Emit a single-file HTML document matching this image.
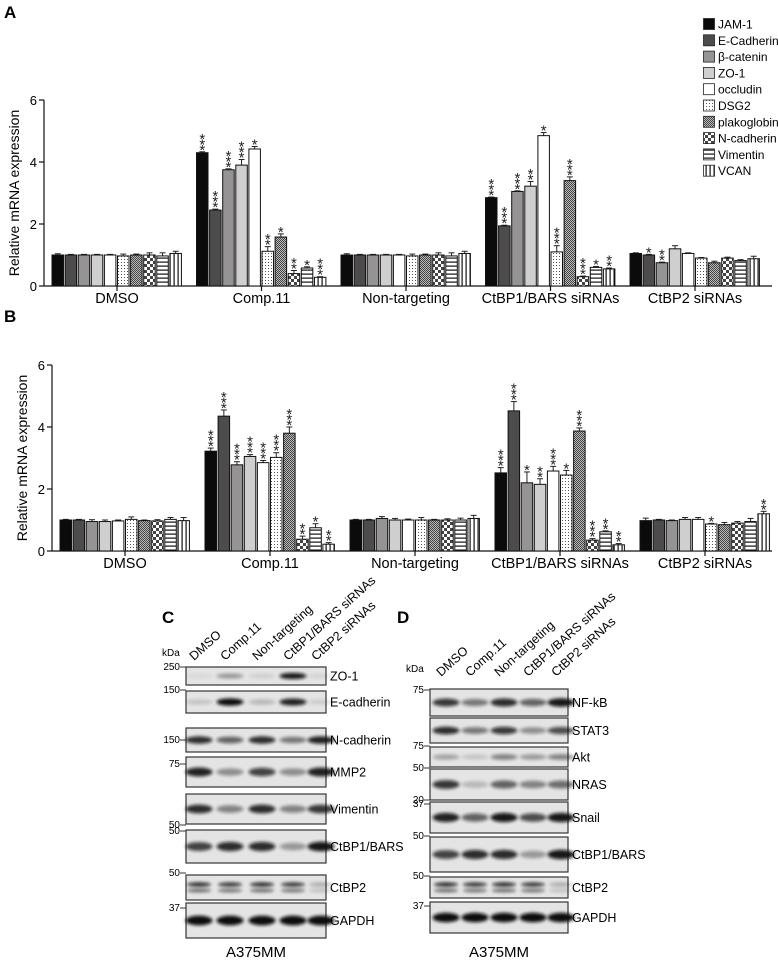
<!DOCTYPE html>
<html><head><meta charset="utf-8"><style>
html,body{margin:0;padding:0;background:#fff;}
svg{display:block;font-family:"Liberation Sans",Arial,sans-serif;}
</style></head><body>
<svg id="fig" width="778" height="960" viewBox="0 0 778 960" xmlns="http://www.w3.org/2000/svg">
<defs>
<pattern id="p5" width="3" height="3" patternUnits="userSpaceOnUse"><rect width="3" height="3" fill="#fff"/><rect x="1" y="1" width="1" height="1" fill="#555"/></pattern>
<pattern id="p6" width="2" height="2" patternUnits="userSpaceOnUse"><rect width="2" height="2" fill="#bbb"/><rect width="1" height="1" fill="#444"/><rect x="1" y="1" width="1" height="1" fill="#444"/></pattern>
<pattern id="p7" width="6" height="6" patternUnits="userSpaceOnUse"><rect width="6" height="6" fill="#fff"/><rect width="3" height="3" fill="#444"/><rect x="3" y="3" width="3" height="3" fill="#444"/></pattern>
<pattern id="p8" width="4" height="4" patternUnits="userSpaceOnUse"><rect width="4" height="4" fill="#fff"/><rect y="1.5" width="4" height="1.2" fill="#111"/></pattern>
<pattern id="p9" width="4" height="4" patternUnits="userSpaceOnUse"><rect width="4" height="4" fill="#fff"/><rect x="1.5" width="1.2" height="4" fill="#111"/></pattern>
<filter id="blur" x="-50%" y="-100%" width="200%" height="300%"><feGaussianBlur stdDeviation="1.6"/></filter>
</defs>
<g id="root"></g>
</svg>
<script>
const NS="http://www.w3.org/2000/svg";
const groups=["DMSO","Comp.11","Non-targeting","CtBP1/BARS siRNAs","CtBP2 siRNAs"];
const genes=["JAM-1","E-Cadherin","β-catenin","ZO-1","occludin","DSG2","plakoglobin","N-cadherin","Vimentin","VCAN"];
const fills=["#0b0b0b","#4d4b4c","#959394","#cfcfcf","#ffffff","url(#p5)","url(#p6)","url(#p7)","url(#p8)","url(#p9)"];
const yTicks=[0,2,4,6];
const valsA_DMSO=[1.0,1.0,1.0,1.0,1.0,0.97,1.0,1.0,0.97,1.05];
const valsA_Comp=[4.3,2.45,3.75,3.9,4.42,1.12,1.58,0.4,0.58,0.28];
const valsA_NT=[1.0,1.0,1.0,1.0,1.0,0.97,1.0,1.0,0.97,1.05];
const valsA_Ct1=[2.85,1.94,3.05,3.22,4.85,1.1,3.4,0.3,0.6,0.55];
const valsA_Ct2=[1.05,1.0,0.75,1.2,1.05,0.9,0.75,0.9,0.82,0.88];
const errA_Comp=[0.03,0.03,0.03,0.18,0.08,0.15,0.1,0.1,0.04,0.02];
const errA_Ct1=[0.02,0.02,0.02,0.15,0.1,0.2,0.12,0.02,0.03,0.03];
const errA_Ct2=[0.02,0.02,0.02,0.1,0.02,0.02,0.05,0.03,0.03,0.08];
const errA_ctl=[0.04,0.02,0.02,0.02,0.02,0.06,0.03,0.07,0.1,0.07];
const starsA_Comp=["***","***","***","***","*","**","*","**","*","***"];
const starsA_Ct1=["***","***","***","**","*","***","***","***","*","**"];
const starsA_Ct2=["","*","**","","","","","","",""];
const valsB_DMSO=[1.0,1.0,0.95,0.95,0.97,1.02,0.98,0.97,1.02,0.98];
const valsB_Comp=[3.22,4.35,2.78,3.05,2.85,3.02,3.8,0.38,0.75,0.22];
const valsB_NT=[1.0,1.0,1.05,1.0,1.0,1.0,1.0,1.0,1.0,1.05];
const valsB_Ct1=[2.52,4.52,2.2,2.15,2.58,2.45,3.87,0.35,0.62,0.2];
const valsB_Ct2=[0.98,1.0,0.98,1.02,1.02,0.87,0.85,0.9,0.95,1.2];
const errB_Comp=[0.1,0.2,0.1,0.06,0.07,0.15,0.2,0.1,0.13,0.05];
const errB_Ct1=[0.17,0.3,0.35,0.18,0.15,0.15,0.1,0.05,0.03,0.04];
const errB_Ct2=[0.08,0.02,0.02,0.06,0.06,0.02,0.07,0.05,0.1,0.08];
const errB_ctl=[0.02,0.02,0.06,0.05,0.03,0.08,0.02,0.04,0.06,0.1];
const starsB_Comp=["***","***","***","***","***","***","***","**","*","**"];
const starsB_Ct1=["***","***","*","**","***","*","***","***","**","**"];
const starsB_Ct2=["","","","","","*","","","","**"];
const root=document.getElementById('root');
function mk(tag,attrs,parent,text){const e=document.createElementNS(NS,tag);for(const k in attrs)e.setAttribute(k,attrs[k]);if(text!==undefined)e.textContent=text;(parent||root).appendChild(e);return e;}

function chart(cfg){
  const g=mk('g',{});
  
  
  const y=v=>cfg.zero-v*cfg.unit;
  const xBar=(gi,bi)=>cfg.start+gi*cfg.gstep+bi*cfg.pitch;
  const ya=mk('line',{x1:cfg.ax,y1:y(6),x2:cfg.ax,y2:cfg.zero,stroke:'#111','stroke-width':1.2},g);
  
  const xa=mk('line',{x1:cfg.ax,y1:cfg.zero,x2:772,y2:cfg.zero,stroke:'#111','stroke-width':1.2},g);
  
  yTicks.forEach(t=>{
    mk('line',{x1:cfg.ax-5,y1:y(t),x2:cfg.ax,y2:y(t),stroke:'#111','stroke-width':1.2},g);
    const tl=mk('text',{x:cfg.ax-7,y:y(t)+5,'text-anchor':'end','font-size':13},g,String(t));
    
  });
  const yt=mk('text',{x:0,y:0,'text-anchor':'middle','font-size':14,transform:`translate(${cfg.ax-25},${y(3)}) rotate(-90)`},g,'Relative mRNA expression');
  
  groups.forEach((gn,gi)=>{
    const cx=xBar(gi,0)+cfg.pitch*5-0.5;
    mk('line',{x1:cx,y1:cfg.zero,x2:cx,y2:cfg.zero+5,stroke:'#111','stroke-width':1.2},g);
    const gl=mk('text',{x:cx,y:cfg.zero+17,'text-anchor':'middle','font-size':14.5},g,gn);
    
    const vals=cfg.vals[gi],errs=cfg.errs[gi],st=cfg.stars[gi];
    vals.forEach((v,bi)=>{
      const x=xBar(gi,bi);
      const top=y(v+errs[bi]);
      mk('line',{x1:x+cfg.bw/2,y1:y(v),x2:x+cfg.bw/2,y2:top,stroke:'#222','stroke-width':1},g);
      mk('line',{x1:x+cfg.bw/2-3,y1:top,x2:x+cfg.bw/2+3,y2:top,stroke:'#222','stroke-width':1},g);
      const r=mk('rect',{x:x,y:y(v),width:cfg.bw,height:cfg.zero-y(v),fill:fills[bi],stroke:'#111','stroke-width':1},g);
      
      
      const s=st?st[bi]:'';
      for(let k=0;k<s.length;k++){
        const sy=top-3-k*5.5;
        const se=mk('text',{x:x+cfg.bw/2,y:sy+6,'text-anchor':'middle','font-size':15,fill:'#222'},g,'*');
        
      }
    });
  });
}
chart({name:'chart-a',zero:286,unit:31,ax:44,start:52,gstep:144.5,pitch:13.1,bw:11.5,
  vals:[valsA_DMSO,valsA_Comp,valsA_NT,valsA_Ct1,valsA_Ct2],
  errs:[errA_ctl,errA_Comp,errA_ctl,errA_Ct1,errA_Ct2],
  stars:[null,starsA_Comp,null,starsA_Ct1,starsA_Ct2]});
chart({name:'chart-b',zero:551,unit:31,ax:52,start:60,gstep:145,pitch:13.1,bw:11.5,
  vals:[valsB_DMSO,valsB_Comp,valsB_NT,valsB_Ct1,valsB_Ct2],
  errs:[errB_ctl,errB_Comp,errB_ctl,errB_Ct1,errB_Ct2],
  stars:[null,starsB_Comp,null,starsB_Ct1,starsB_Ct2]});

genes.forEach((gn,i)=>{
  const yy=24+i*16.3;
  const r=mk('rect',{x:703.5,y:yy-5.5,width:11,height:11,fill:fills[i],stroke:'#222','stroke-width':0.8});
  
  const t=mk('text',{x:718,y:yy+4.5,'font-size':12},undefined,gn);
  
});

[['A',4,18],['B',4,322],['C',162,623],['D',397,623]].forEach(p=>{
  const t=mk('text',{x:p[1],y:p[2],'font-size':17,'font-weight':'bold'},undefined,p[0]);
  
});

const laneNames=["DMSO","Comp.11","Non-targeting","CtBP1/BARS siRNAs","CtBP2 siRNAs"];
const blotC_names=["ZO-1","E-cadherin","N-cadherin","MMP2","Vimentin","CtBP1/BARS","CtBP2","GAPDH"];
const blotC_rows=[[667,685],[691,713],[728,752],[757,787],[794,824],[830,863],[875,900],[903,938]];
const blotC_int=[[0.05,0.35,0.1,0.95,0.08],[0.15,1,0.2,0.9,0.1],[0.85,0.6,0.85,0.5,0.9],[0.9,0.4,0.75,0.4,0.9],[0.85,0.45,0.85,0.45,0.8],[0.75,0.85,0.85,0.35,0.95],[0.85,0.8,0.85,0.8,0.25],[1,1,1,1,1]];
const blotD_names=["NF-kB","STAT3","Akt","NRAS","Snail","CtBP1/BARS","CtBP2","GAPDH"];
const blotD_rows=[[689,716],[718,743],[747,767],[769,800],[802,833],[837,872],[877,898],[902,933]];
const blotD_int=[[0.8,0.5,0.85,0.6,0.95],[0.85,0.5,0.8,0.4,0.7],[0.3,0.15,0.45,0.35,0.45],[0.8,0.2,0.6,0.45,0.55],[0.9,0.6,0.95,0.7,0.95],[0.75,0.85,0.85,0.35,0.95],[0.85,0.8,0.85,0.8,0.25],[1,1,1,1,1]];
const markersC=[["250",667],["150",690],["150",740],["75",764],["50",825],["50",831],["50",873],["37",908]];
const markersD=[["75",690],["75",746],["50",768],["20",800],["37",804],["50",836],["50",876],["37",906]];
function blot(id,x0,x1,rows,names,ints,markers,laneX,labelY){
  const g=mk('g',{});
  
  rows.forEach((r,i)=>{
    const br=mk('rect',{x:x0,y:r[0],width:x1-x0,height:r[1]-r[0],fill:'#e4e4e4',stroke:'#333','stroke-width':1.2},g);
    
    const cy=(r[0]+r[1])/2;
    const double=names[i]==='CtBP2';
    laneX.forEach((lx,li)=>{
      const a=ints[i][li];
      const h=Math.min(7,(r[1]-r[0])*0.22)*(0.6+0.5*a);
      if(double){
        mk('ellipse',{cx:lx,cy:cy-3,rx:12,ry:2.2,fill:'#111',opacity:a,filter:'url(#blur)'},g);
        mk('ellipse',{cx:lx,cy:cy+3,rx:12,ry:1.8,fill:'#111',opacity:a*0.7,filter:'url(#blur)'},g);
      } else {
        const b=mk('ellipse',{cx:lx,cy:cy,rx:13.5,ry:h/2+1,fill:'#111',opacity:a,filter:'url(#blur)'},g);
        
      }
    });
    const lt=mk('text',{x:x1+4,y:cy+4.5,'font-size':12.5},g,names[i]);
    
  });
  markers.forEach(m=>{
    mk('line',{x1:x0-6,y1:m[1],x2:x0,y2:m[1],stroke:'#333','stroke-width':1},g);
    const t=mk('text',{x:x0-6,y:m[1]+3,'text-anchor':'end','font-size':10},g,m[0]);
    
  });
  const k=mk('text',{x:x0-24,y:labelY+3,'font-size':10},g,'kDa');
  
  laneX.forEach((lx,li)=>{
    const t=mk('text',{x:0,y:0,'font-size':12.5,transform:`translate(${lx-5},${labelY+8}) rotate(-42)`},g,laneNames[li]);
    
  });
  const cl=mk('text',{x:(x0+x1)/2,y:957,'text-anchor':'middle','font-size':15},g,'A375MM');
  
}
blot('western-blot-c',186,326,blotC_rows,blotC_names,blotC_int,markersC,[199,230,262,293,321],653);
blot('western-blot-d',430,568,blotD_rows,blotD_names,blotD_int,markersD,[446,475,504,533,561],669);
</script>
</body></html>
